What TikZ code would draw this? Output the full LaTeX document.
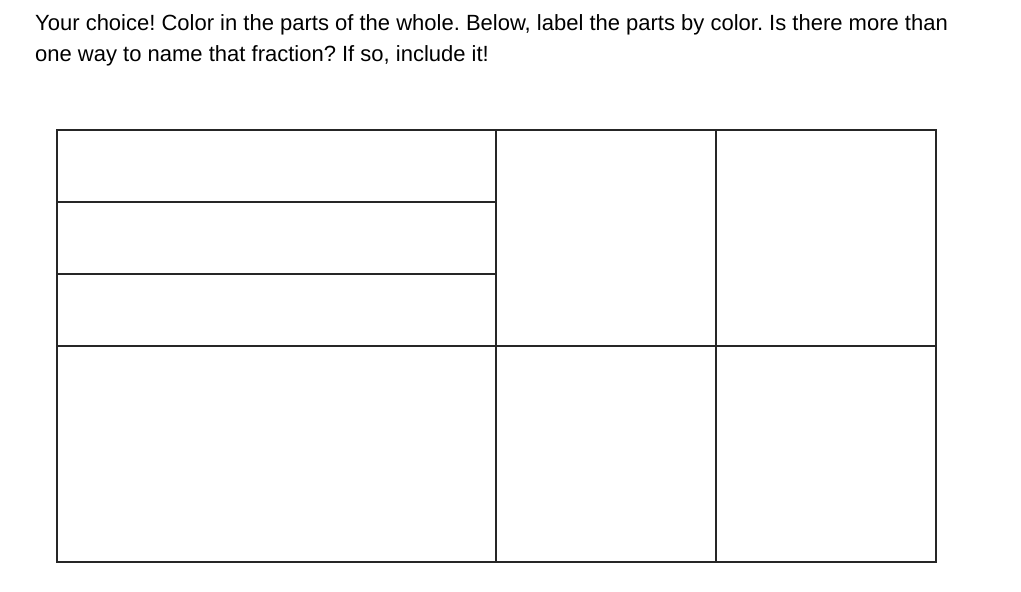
\documentclass[tikz,border=0pt]{standalone}
\usepackage{fontspec}
\setmainfont{Liberation Sans}
\frenchspacing
\tikzset{
  grid line/.style={line width=2pt, draw=black!85, line cap=rect},
  prompt/.style={anchor=base west, inner sep=0pt, font=\fontsize{22}{30}\selectfont, text=black}
}
\begin{document}
\begin{tikzpicture}[x=1pt,y=-1pt]
\useasboundingbox (0,0) rectangle (1021,592);
\node[prompt] (l1) at (35,30) {Your choice! Color in the parts of the whole. Below, label the parts by color. Is there more than};
\node[prompt] (l2) at (35,61) {one way to name that fraction? If so, include it!};
\coordinate (tl) at (57,130);
\coordinate (br) at (936,562);
\draw[grid line] (tl) rectangle (br);
\draw[grid line] (496,130) -- (496,562);
\draw[grid line] (716,130) -- (716,562);
\draw[grid line] (57,346) -- (936,346);
\draw[grid line] (57,202) -- (496,202);
\draw[grid line] (57,274) -- (496,274);
\end{tikzpicture}
\end{document}
